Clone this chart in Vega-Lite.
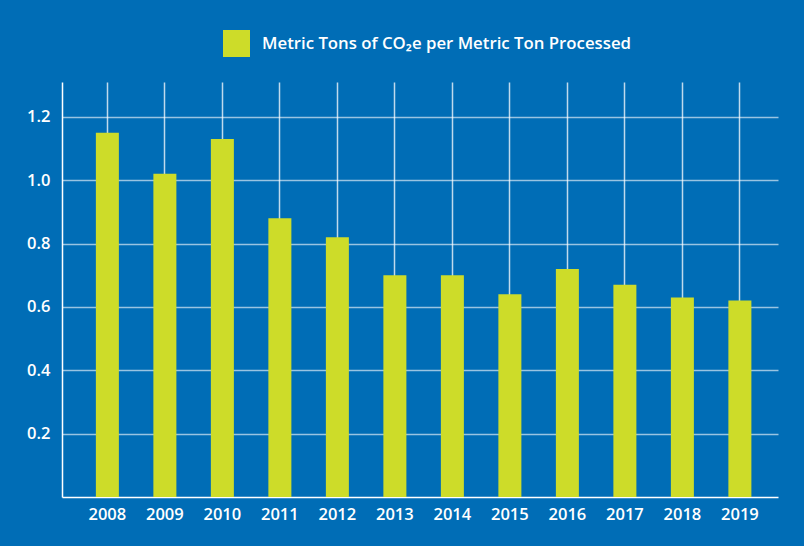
{
  "$schema": "https://vega.github.io/schema/vega-lite/v6.json",
  "width": 716,
  "height": 415,
  "autosize": {"type": "none"},
  "padding": {"left": 62, "top": 82, "right": 26, "bottom": 49},
  "background": "#006db6",
  "config": {
    "view": {"stroke": null},
    "font": "Open Sans",
    "axis": {"labelFont": "Open Sans", "labelFontSize": 16.5, "labelFontWeight": 600, "labelColor": "#ffffff", "domainColor": "#ffffff", "domainWidth": 1.5, "ticks": false, "title": null},
    "legend": {"labelFont": "Open Sans", "labelFontSize": 16.8, "labelFontWeight": 600, "labelColor": "#ffffff", "labelLimit": 600}
  },
  "data": {
    "values": [
      {"year": "2008", "value": 1.15, "series": "Metric Tons of CO₂e per Metric Ton Processed"},
      {"year": "2009", "value": 1.02, "series": "Metric Tons of CO₂e per Metric Ton Processed"},
      {"year": "2010", "value": 1.13, "series": "Metric Tons of CO₂e per Metric Ton Processed"},
      {"year": "2011", "value": 0.88, "series": "Metric Tons of CO₂e per Metric Ton Processed"},
      {"year": "2012", "value": 0.82, "series": "Metric Tons of CO₂e per Metric Ton Processed"},
      {"year": "2013", "value": 0.70, "series": "Metric Tons of CO₂e per Metric Ton Processed"},
      {"year": "2014", "value": 0.70, "series": "Metric Tons of CO₂e per Metric Ton Processed"},
      {"year": "2015", "value": 0.64, "series": "Metric Tons of CO₂e per Metric Ton Processed"},
      {"year": "2016", "value": 0.72, "series": "Metric Tons of CO₂e per Metric Ton Processed"},
      {"year": "2017", "value": 0.67, "series": "Metric Tons of CO₂e per Metric Ton Processed"},
      {"year": "2018", "value": 0.63, "series": "Metric Tons of CO₂e per Metric Ton Processed"},
      {"year": "2019", "value": 0.62, "series": "Metric Tons of CO₂e per Metric Ton Processed"}
    ]
  },
  "mark": {"type": "bar"},
  "encoding": {
    "x": {
      "field": "year",
      "type": "ordinal",
      "scale": {"paddingInner": 0.6, "paddingOuter": 0.526, "align": 0.56},
      "axis": {"labelAngle": 0, "labelPadding": 9, "grid": true, "gridColor": "#ffffff", "gridOpacity": 0.75, "gridWidth": 1.5, "bandPosition": 0.5}
    },
    "y": {
      "field": "value",
      "type": "quantitative",
      "scale": {"domain": [0, 1.31], "nice": false},
      "axis": {"values": [0.2, 0.4, 0.6, 0.8, 1.0, 1.2], "format": ".1f", "labelPadding": 12, "grid": true, "gridColor": "#ffffff", "gridOpacity": 0.6, "gridWidth": 1.5}
    },
    "color": {
      "field": "series",
      "type": "nominal",
      "scale": {"range": ["#cddc29"]},
      "legend": {"title": null, "orient": "none", "legendX": 161, "legendY": -52, "symbolType": "square", "symbolSize": 729, "symbolStrokeWidth": 0, "symbolOpacity": 1, "labelOffset": 12, "padding": 0, "labelLimit": 600}
    }
  }
}
